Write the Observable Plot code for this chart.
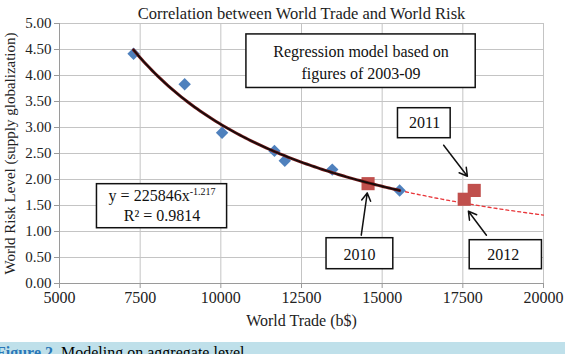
<!DOCTYPE html>
<html><head><meta charset="utf-8">
<script src="https://cdn.jsdelivr.net/npm/d3@7"></script>
<script src="https://cdn.jsdelivr.net/npm/@observablehq/plot@0.6"></script>
<style>
body{margin:0;width:565px;height:354px;overflow:hidden;background:#fff;font-family:"Liberation Serif","Times New Roman",serif;position:relative;}
#chart{position:absolute;left:0;top:0;}
#cap{position:absolute;left:0;top:342px;width:565px;height:30px;background:#bfe0ea;font-size:16px;line-height:20px;padding-top:1px;box-sizing:border-box;white-space:nowrap;}
#cap span.lab{color:#2a78b8;font-weight:bold;margin-left:-4px;}
</style></head><body>
<div id="chart"></div>
<div id="cap"><span class="lab">Figure 2.</span> Modeling on aggregate level.</div>
<script>
// Regression-period observations (2003-09)
const fitYears = [2003, 2004, 2005, 2006, 2007, 2008, 2009];
const fitTrade = [7296, 8879, 10039, 11662, 11982, 13453, 15541];
const fitRisk  = [4.42, 3.83, 2.90, 2.55, 2.36, 2.19, 1.79];
// Test observations
const testYears = ["2010", "2011", "2012"];
const testTrade = [14563, 17853, 17543];
const testRisk  = [1.92, 1.79, 1.62];
// Regression model shown in the chart: y = a * x^b
const coefA = 225846, coefB = -1.217, r2 = 0.9814;
// Axis ticks
const xTicks = [5000, 7500, 10000, 12500, 15000, 17500, 20000];
const yTicks = [0, 0.5, 1, 1.5, 2, 2.5, 3, 3.5, 4, 4.5, 5];
// Annotation boxes (data units)
const boxLabels = ["regression", "equation", "2010", "2011", "2012"];
const boxX1 = [10793, 6161, 13276, 15490, 17713];
const boxX2 = [17899, 10194, 15345, 17123, 19952];
const boxY1 = [3.76, 1.063, 0.275, 2.794, 0.275];
const boxY2 = [4.79, 1.91, 0.871, 3.371, 0.833];
// Annotation texts
const noteText = ["Regression model based on", "figures of 2003-09", "y = 225846x", "R² = 0.9814", "2010", "2011", "2012"];
const noteX = [14346, 14346, 8178, 8178, 14300, 16317, 18753];
const noteY = [4.45, 4.04, 1.68, 1.30, 0.544, 3.08, 0.544];
// Arrows
const arrowX1 = [14352, 16906, 18231];
const arrowY1 = [0.929, 2.66, 0.929];
const arrowX2 = [14538, 17642, 17673];
const arrowY2 = [1.742, 2.063, 1.39];

const fitData = fitYears.map((y, i) => ({year: y, trade: fitTrade[i], risk: fitRisk[i]}));
const testData = testYears.map((y, i) => ({year: y, trade: testTrade[i], risk: testRisk[i]}));
const model = x => coefA * Math.pow(x, coefB);
const xMin = d3.min(fitTrade), xMax = d3.max(fitTrade);
const solidCurve = d3.range(0, 101).map(i => { const x = xMin + (xMax - xMin) * i / 100; return {x, y: model(x)}; });
const dashCurve = d3.range(0, 51).map(i => { const x = xMax + (20000 - xMax) * i / 50; return {x, y: model(x)}; });
const boxes = boxLabels.map((l, i) => ({l, x1: boxX1[i], x2: boxX2[i], y1: boxY1[i], y2: boxY2[i]}));
const notes = noteText.map((t, i) => ({t, x: noteX[i], y: noteY[i]}));
const arrows = arrowX1.map((x, i) => ({x1: x, y1: arrowY1[i], x2: arrowX2[i], y2: arrowY2[i]}));

const grid = "#c4c4c4";
const chart = Plot.plot({
  width: 565, height: 342,
  marginLeft: 59, marginRight: 22, marginTop: 23, marginBottom: 59,
  style: {fontFamily: "'Liberation Serif','Times New Roman',serif", fontSize: "14px", color: "#222", background: "transparent"},
  x: {domain: [5000, 20000]},
  y: {domain: [0, 5]},
  marks: [
    Plot.gridX(xTicks, {stroke: grid, strokeOpacity: 1, strokeWidth: 1}),
    Plot.gridY(yTicks, {stroke: grid, strokeOpacity: 1, strokeWidth: 1}),
    Plot.axisX(xTicks, {tickFormat: d3.format("d"), tickSize: 5, tickPadding: 3, stroke: "#9a9a9a", fontSize: 16, label: null}),
    Plot.axisY(yTicks, {tickFormat: d3.format(".2f"), tickSize: 5, tickPadding: 3, stroke: "#9a9a9a", fontSize: 15, label: null}),
    Plot.ruleX([5000], {stroke: "#9a9a9a"}),
    Plot.ruleY([0], {stroke: "#9a9a9a"}),
    Plot.text(["Correlation between World Trade and World Risk"], {frameAnchor: "top", lineAnchor: "middle", dy: -10, fontSize: 16.5, fill: "#222"}),
    Plot.text(["World Trade (b$)"], {frameAnchor: "bottom", lineAnchor: "middle", dy: 37, fontSize: 16, fill: "#222"}),
    Plot.text(["World Risk Level (supply globalization)"], {frameAnchor: "left", textAnchor: "middle", lineAnchor: "middle", dx: -49, rotate: -90, fontSize: 15, fill: "#222"}),
    Plot.line(dashCurve, {x: "x", y: "y", stroke: "#e8363a", strokeWidth: 1.3, strokeDasharray: "3,3"}),
    Plot.dot(fitData, {x: "trade", y: "risk", symbol: "diamond2", r: 5.6, fill: "#4f81bd", stroke: "none"}),
    Plot.dot(testData, {x: "trade", y: "risk", symbol: "square", r: 7.4, fill: "#c0504d", stroke: "none"}),
    Plot.line(solidCurve, {x: "x", y: "y", stroke: "#6b1414", strokeWidth: 3}),
    Plot.line(solidCurve, {x: "x", y: "y", stroke: "#0d0d0d", strokeWidth: 1.4}),
    Plot.rect(boxes, {x1: "x1", x2: "x2", y1: "y1", y2: "y2", fill: "white", stroke: "#111", strokeWidth: 1.5}),
    Plot.text(notes, {x: "x", y: "y", text: "t", fontSize: 16, fill: "#111"}),
    Plot.arrow(arrows, {x1: "x1", y1: "y1", x2: "x2", y2: "y2", stroke: "#111", strokeWidth: 1.5, headLength: 9})
  ]
});
// superscript for the exponent of the regression equation
d3.select(chart).selectAll("text").each(function() {
  if (this.textContent === "y = 225846x") {
    d3.select(this).append("tspan").attr("font-size", 10).attr("dy", "-0.6em").text(String(coefB));
  }
});
document.getElementById("chart").append(chart);
</script>
</body></html>
